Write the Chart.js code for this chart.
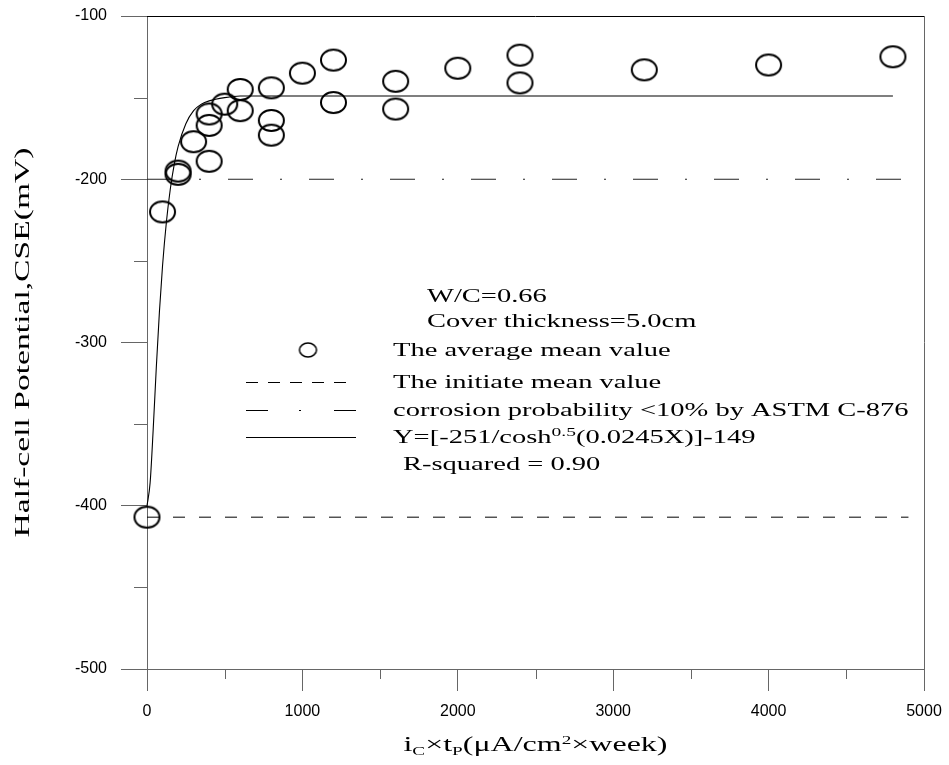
<!DOCTYPE html>
<html>
<head>
<meta charset="utf-8">
<script src="https://cdn.jsdelivr.net/npm/chart.js@4/dist/chart.umd.min.js"></script>
<style>
  body { margin: 0; background: #fff; }
  #wrap { width: 949px; height: 765px; }
</style>
</head>
<body>
<div id="wrap"><canvas id="myChart" width="949" height="765"></canvas></div>
<script>
// measured points (x = ic*tp, y = half-cell potential)
const pointX = [0, 100, 200, 200, 300, 400, 400, 400, 500, 600, 600, 800, 800, 800,
                1000, 1200, 1200, 1600, 1600, 2000, 2400, 2400, 3200, 4000, 4800];
const pointY = [-407, -220, -195, -197, -177, -189, -167, -160, -154, -145, -158, -144, -164, -173,
                -135, -127, -153, -140, -157, -132, -124, -141, -133, -130, -125];

// fitted curve
const fitX = [0, 20, 40, 60, 80, 100, 125, 150, 175, 200, 250, 300, 350, 400, 500, 600, 800, 1000, 4800];
const fitY = [-400, -386, -353, -315, -281, -253, -226, -206, -191, -180, -166, -158, -154, -152, -150, -149, -149, -149, -149];

// horizontal reference lines
const initX = [0, 4900];
const initY = [-407, -407];
const astmX = [0, 5000];
const astmY = [-200, -200];

const xMinorTicks = [500, 1500, 2500, 3500, 4500];
const yMinorTicks = [-150, -250, -350, -450];

const noteLines = ['W/C=0.66', 'Cover thickness=5.0cm'];
const legendLabels = ['The average mean value', 'The initiate mean value',
                      'corrosion probability <10% by ASTM C-876'];
const rSquaredText = 'R-squared = 0.90';
const yTitle = 'Half-cell Potential,CSE(mV)';

function zip(xs, ys) {
    return xs.map((x, i) => ({ x: x, y: ys[i] }));
}

// open ellipse marker
function makeEllipse(rx, ry, lw) {
    const c = document.createElement('canvas');
    c.width = Math.ceil(rx * 2 + lw + 2);
    c.height = Math.ceil(ry * 2 + lw + 2);
    const g = c.getContext('2d');
    g.strokeStyle = '#000';
    g.lineWidth = lw;
    g.beginPath();
    g.ellipse(c.width / 2, c.height / 2, rx, ry, 0, 0, Math.PI * 2);
    g.stroke();
    return c;
}
const bigEllipse = makeEllipse(12.5, 10.5, 2);
const smallEllipse = makeEllipse(8.5, 7, 1.5);

const serif = '"Liberation Serif", "Times New Roman", serif';
const sans = '"Liberation Sans", Arial, sans-serif';
const STRETCH = 1.5;   // the serif text of the original is drawn wide

function hline(ctx, x1, x2, y) {
    ctx.beginPath();
    ctx.moveTo(x1, y);
    ctx.lineTo(x2, y);
    ctx.stroke();
}

// wide serif text, returns the drawn width
function wideText(ctx, text, x, y, size, sx) {
    ctx.save();
    ctx.font = size + 'px ' + serif;
    ctx.translate(x, y);
    ctx.scale(sx, 1);
    ctx.fillText(text, 0, 0);
    const w = ctx.measureText(text).width * sx;
    ctx.restore();
    return w;
}

// frame, minor ticks, axis titles and the legend box
const extras = {
    id: 'extras',
    afterDraw(chart) {
        const ctx = chart.ctx;
        const xs = chart.scales.x, ys = chart.scales.y;
        const area = chart.chartArea;
        ctx.save();

        // top and right border
        ctx.lineWidth = 1;
        ctx.strokeStyle = '#000';
        hline(ctx, area.left, area.right, Math.round(area.top) + 0.5);
        ctx.strokeStyle = '#666';
        ctx.beginPath();
        ctx.moveTo(Math.round(area.right) + 0.5, area.top);
        ctx.lineTo(Math.round(area.right) + 0.5, area.bottom);
        ctx.stroke();

        // minor ticks
        xMinorTicks.forEach(v => {
            const px = Math.round(xs.getPixelForValue(v)) + 0.5;
            ctx.beginPath();
            ctx.moveTo(px, area.bottom);
            ctx.lineTo(px, area.bottom + 10);
            ctx.stroke();
        });
        yMinorTicks.forEach(v => {
            const py = Math.round(ys.getPixelForValue(v)) + 0.5;
            hline(ctx, area.left - 13, area.left, py);
        });

        ctx.fillStyle = '#000';
        ctx.textBaseline = 'alphabetic';
        ctx.textAlign = 'left';

        // x axis title with sub/superscripts
        const sx = 1.6;
        const parts = [
            ['i', 20, 0], ['C', 12, 4], ['\u00d7t', 20, 0], ['P', 12, 4],
            ['(\u03bcA/cm', 20, 0], ['2', 12, -7], ['\u00d7week)', 20, 0]
        ];
        let total = 0;
        parts.forEach(p => { ctx.font = p[1] + 'px ' + serif; total += ctx.measureText(p[0]).width * sx; });
        let tx = (area.left + area.right) / 2 - total / 2;
        parts.forEach(p => { tx += wideText(ctx, p[0], tx, 751 + p[2], p[1], sx); });

        // y axis title, rotated and stretched along its length
        ctx.save();
        ctx.translate(29, (area.top + area.bottom) / 2);
        ctx.rotate(-Math.PI / 2);
        ctx.scale(1.68, 1);
        ctx.font = '20px ' + serif;
        ctx.textAlign = 'center';
        ctx.fillText(yTitle, 0, 0);
        ctx.restore();

        // notes and legend
        wideText(ctx, noteLines[0], 427, 302, 19, STRETCH);
        wideText(ctx, noteLines[1], 427, 327, 19, STRETCH);

        const textX = 393;
        const rows = [356, 388, 416, 443];
        ctx.drawImage(smallEllipse, 308 - smallEllipse.width / 2, 350 - smallEllipse.height / 2);
        wideText(ctx, legendLabels[0], textX, rows[0], 19, STRETCH);

        ctx.strokeStyle = '#000';
        ctx.lineWidth = 1;
        ctx.setLineDash([12, 10]);
        hline(ctx, 246, 356, 382.5);
        ctx.setLineDash([]);
        wideText(ctx, legendLabels[1], textX, rows[1], 19, STRETCH);

        hline(ctx, 246, 268, 410.5);
        hline(ctx, 299, 301, 410.5);
        hline(ctx, 334, 356, 410.5);
        wideText(ctx, legendLabels[2], textX, rows[2], 19, STRETCH);

        hline(ctx, 246, 356, 437.5);
        let cx = textX;
        cx += wideText(ctx, 'Y=[-251/cosh', cx, rows[3], 19, STRETCH);
        cx += wideText(ctx, '0.5', cx, rows[3] - 7, 13, STRETCH);
        wideText(ctx, '(0.0245X)]-149', cx, rows[3], 19, STRETCH);

        wideText(ctx, rSquaredText, 403, 470, 19, STRETCH);
        ctx.restore();
    }
};

const ctx = document.getElementById('myChart').getContext('2d');
new Chart(ctx, {
    type: 'scatter',
    data: {
        datasets: [
            {
                label: 'The average mean value',
                data: zip(pointX, pointY),
                pointStyle: bigEllipse,
                pointRadius: 12,
                showLine: false,
                clip: false
            },
            {
                label: 'fit',
                data: zip(fitX, fitY),
                showLine: true,
                pointRadius: 0,
                borderColor: '#000',
                borderWidth: 1.1,
                cubicInterpolationMode: 'monotone',
                clip: false
            },
            {
                label: 'The initiate mean value',
                data: zip(initX, initY),
                showLine: true,
                pointRadius: 0,
                borderColor: '#000',
                borderWidth: 1,
                borderDash: [12, 14]
            },
            {
                label: 'ASTM C-876',
                data: zip(astmX, astmY),
                showLine: true,
                pointRadius: 0,
                borderColor: '#222',
                borderWidth: 1,
                borderDash: [25, 27, 2, 27]
            }
        ]
    },
    options: {
        responsive: false,
        animation: false,
        layout: { padding: { top: 16, right: 25, left: 0, bottom: 0 } },
        plugins: {
            legend: { display: false },
            tooltip: { enabled: false }
        },
        scales: {
            x: {
                type: 'linear',
                min: 0,
                max: 5000,
                afterFit: (scale) => {
                    scale.height = 96;
                    scale.paddingLeft = 0;
                    scale.paddingRight = 0;
                },
                ticks: {
                    stepSize: 1000, color: '#000', padding: 11, maxRotation: 0,
                    font: { family: sans, size: 16 },
                    callback: (v) => String(v)
                },
                grid: { drawOnChartArea: false, tickLength: 22, color: '#666' },
                border: { color: '#666' }
            },
            y: {
                min: -500,
                max: -100,
                afterFit: (scale) => {
                    scale.width = 147;
                    scale.paddingTop = 0;
                    scale.paddingBottom = 0;
                },
                ticks: {
                    stepSize: 100, color: '#000', padding: 14,
                    font: { family: sans, size: 16 },
                    callback: (v) => String(v)
                },
                grid: { drawOnChartArea: false, tickLength: 26, color: '#666' },
                border: { color: '#666' }
            }
        }
    },
    plugins: [extras]
});
</script>
</body>
</html>
